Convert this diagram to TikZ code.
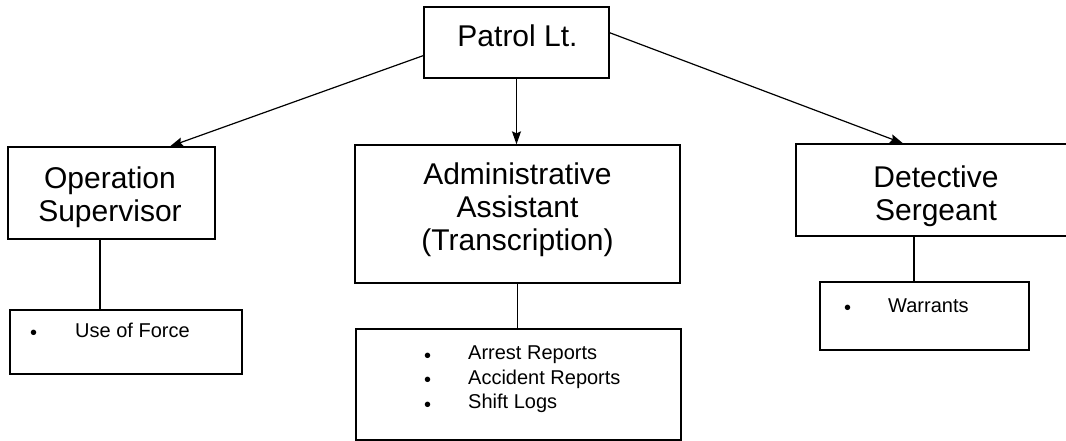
\documentclass[tikz,border=0pt]{standalone}
\usepackage{fontspec}
\setmainfont{Liberation Sans}
\usetikzlibrary{arrows.meta,calc}
\newcommand{\blt}[1]{\makebox[#1][l]{\raisebox{-2.5pt}{\textbullet}}}
\begin{document}
\begin{tikzpicture}[x=1pt,y=-1pt,
  box/.style={draw=black,line width=1.3pt,rectangle,inner sep=0pt},
  title/.style={font=\fontsize{30}{33}\selectfont,align=center,inner sep=0pt,anchor=north},
  item/.style={font=\fontsize{20}{24.5}\selectfont,align=left,inner sep=0pt},
  link/.style={draw=black,line width=1.2pt},
  arr/.style={link,-{Stealth[length=13pt,width=9pt,inset=2pt]}}]
\useasboundingbox[fill=white] (0,0) rectangle (1066,441);
% boxes
\node[box,minimum width=185pt,minimum height=71pt] (pl) at (516.5,42.5) {};
\node[box,minimum width=207pt,minimum height=92pt] (ops) at (111.5,193) {};
\node[box,minimum width=325pt,minimum height=138pt] (adm) at (517.5,214) {};
\node[box,minimum width=282pt,minimum height=92pt] (det) at (937,190) {};
\node[box,minimum width=232pt,minimum height=64pt] (uf) at (126,342) {};
\node[box,minimum width=325pt,minimum height=111pt] (al) at (518.5,384.5) {};
\node[box,minimum width=209pt,minimum height=68pt] (war) at (924.5,316) {};
% titles
\node[title] (plt) at (517.5,25) {Patrol Lt.};
\node[title] (opst) at (110,167) {Operation\\Supervisor};
\node[title] (admt) at (517.5,163) {Administrative\\Assistant\\(Transcription)};
\node[title] (dett) at (936,166) {Detective\\Sergeant};
% lists
\node[item,anchor=base west] (uft) at (30,337) {\blt{45pt}Use of Force};
\node[item,anchor=north west] (alt) at (424,346) {\blt{44pt}Arrest Reports\\\blt{44pt}Accident Reports\\\blt{44pt}Shift Logs};
\node[item,anchor=base west] (wart) at (844,312) {\blt{44pt}Warrants};
% arrows
\draw[arr] (pl.188) -- ([xshift=58.5pt]ops.north);
\draw[arr] (pl.south) -- (pl.south |- adm.north);
\draw[arr] (pl.6.5) -- ([xshift=-34pt]det.north);
% connectors
\draw[link] ([xshift=-11.5pt]ops.south) -- ([xshift=-11.5pt]ops.south |- uf.north);
\draw[link] (adm.south) -- (adm.south |- al.north);
\draw[link] ([xshift=-23pt]det.south) -- ([xshift=-23pt]det.south |- war.north);
\end{tikzpicture}
\end{document}
